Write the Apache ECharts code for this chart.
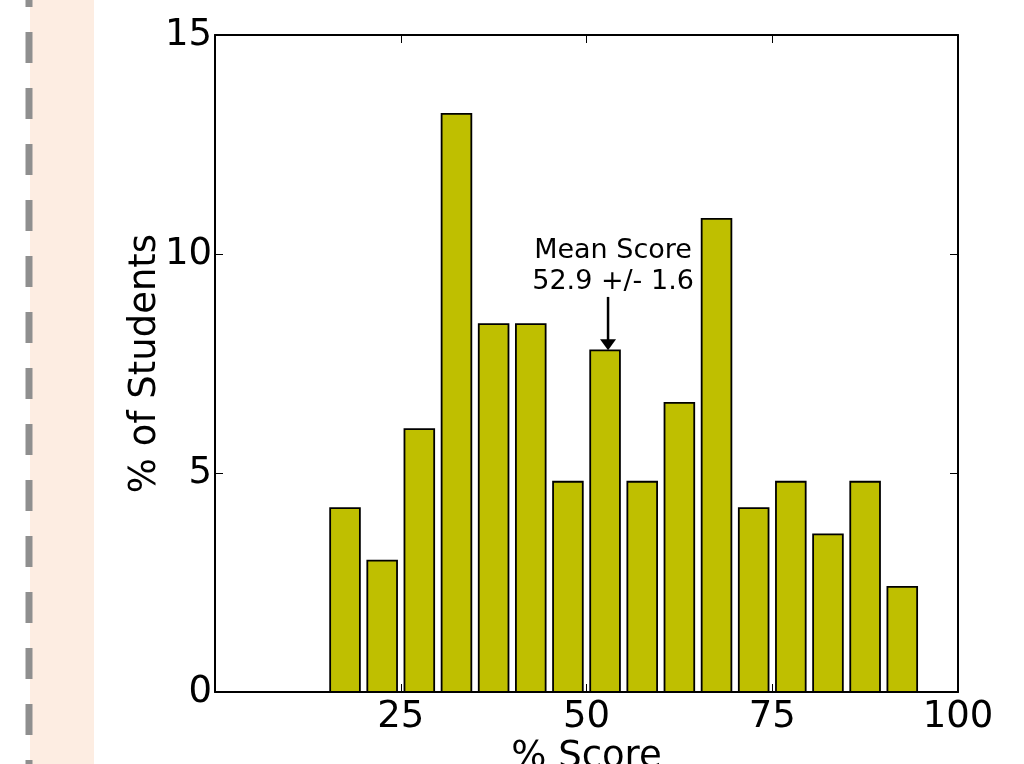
<!DOCTYPE html>
<html>
<head>
<meta charset="utf-8">
<script src="https://cdn.jsdelivr.net/npm/echarts@6/dist/echarts.min.js"></script>
<style>
  html, body { margin: 0; padding: 0; background: #fff; }
  #chart { width: 1024px; height: 764px; }
</style>
</head>
<body>
<div id="chart"></div>
<script>
// histogram bins (% score) and share of students in each
const binStarts = [0, 5, 10, 15, 20, 25, 30, 35, 40, 45, 50, 55, 60, 65, 70, 75, 80, 85, 90]
const binWidth = 5
const percents = [0, 0, 0, 4.2, 3.0, 6.0, 13.2, 8.4, 8.4, 4.8, 7.8, 4.8, 6.6, 10.8, 4.2, 4.8, 3.6, 4.8, 2.4]
const meanScore = [52.9, 7.8]
const meanText = 'Mean Score\n52.9 +/- 1.6'
const xTicks = [0, 25, 50, 75, 100]
const yTicks = [0, 5, 10, 15]

const font = 'DejaVu Sans'
const chart = echarts.init(document.getElementById('chart'))

const frameAxis = {
  axisLine: { show: true, onZero: false, lineStyle: { color: '#000', width: 2 } },
  axisTick: { show: true, inside: true, length: 8, lineStyle: { color: '#000', width: 1 } },
  splitLine: { show: false },
}

chart.setOption({
  backgroundColor: '#fff',
  animation: false,
  graphic: [
    // peach side band + dashed rule on the left edge
    { type: 'rect', shape: { x: 30, y: 0, width: 64, height: 764 }, style: { fill: '#fdede2' }, z: 0 },
    { type: 'line', shape: { x1: 29, y1: -24, x2: 29, y2: 764 },
      style: { stroke: '#8f8f8f', lineWidth: 7, lineDash: [31, 25] }, z: 1 },
  ],
  grid: { left: 215, right: 66, top: 35, bottom: 72, outerBoundsMode: 'none', containLabel: false },
  xAxis: [
    {
      ...frameAxis,
      type: 'value', min: xTicks[0], max: xTicks[xTicks.length - 1], interval: 25,
      position: 'bottom',
      axisLabel: {
        color: '#000', fontFamily: font, fontSize: 37, margin: 7,
        formatter: v => (v === 0 ? '' : String(v)),
      },
      name: '% Score', nameLocation: 'middle', nameGap: 47, nameMoveOverlap: false,
      nameTextStyle: { color: '#000', fontFamily: font, fontSize: 37, verticalAlign: 'top' },
    },
    {
      ...frameAxis,
      type: 'value', min: xTicks[0], max: xTicks[xTicks.length - 1], interval: 25,
      position: 'top',
      axisLabel: { show: false },
    },
  ],
  yAxis: [
    {
      ...frameAxis,
      type: 'value', min: yTicks[0], max: yTicks[yTicks.length - 1], interval: 5,
      position: 'left',
      axisLabel: { color: '#000', fontFamily: font, fontSize: 37, margin: 3 },
      name: '% of Students', nameLocation: 'middle', nameGap: 51, nameMoveOverlap: false,
      nameTextStyle: { color: '#000', fontFamily: font, fontSize: 37 },
    },
    {
      ...frameAxis,
      type: 'value', min: yTicks[0], max: yTicks[yTicks.length - 1], interval: 5,
      position: 'right',
      axisLabel: { show: false },
    },
  ],
  series: [
    {
      type: 'custom',
      xAxisIndex: 0, yAxisIndex: 0,
      data: binStarts.map((s, i) => [s, s + binWidth, percents[i]]),
      encode: { x: [0, 1], y: 2 },
      clip: false,
      renderItem: (params, api) => {
        const top = api.coord([api.value(0) + 0.5, api.value(2)])
        const bot = api.coord([api.value(1) - 0.5, 0])
        return {
          type: 'rect',
          shape: { x: top[0], y: top[1], width: bot[0] - top[0], height: bot[1] - top[1] },
          style: { fill: '#bfbf00', stroke: '#000', lineWidth: 1.8 },
        }
      },
      z: 3,
    },
    {
      type: 'custom',
      xAxisIndex: 0, yAxisIndex: 0,
      data: [[meanScore[0], meanScore[1], 9.02]],
      encode: { x: 0, y: [1, 2] },
      clip: false,
      renderItem: (params, api) => {
        const tip = api.coord([api.value(0), api.value(1)])
        const tail = api.coord([api.value(0), api.value(2)])
        return {
          type: 'group',
          children: [
            { type: 'line', shape: { x1: tail[0], y1: tail[1], x2: tip[0], y2: tip[1] - 8 },
              style: { stroke: '#000', lineWidth: 2.5 } },
            { type: 'polygon', shape: { points: [[tip[0] - 8, tip[1] - 11], [tip[0] + 8, tip[1] - 11], [tip[0], tip[1]]] },
              style: { fill: '#000' } },
            { type: 'text', x: tail[0] + 5, y: tail[1] + 1,
              style: { text: meanText, fill: '#000', font: '27px "DejaVu Sans"', align: 'center',
                verticalAlign: 'bottom', lineHeight: 31 } },
          ],
        }
      },
      z: 4,
    },
  ],
})
</script>
</body>
</html>
